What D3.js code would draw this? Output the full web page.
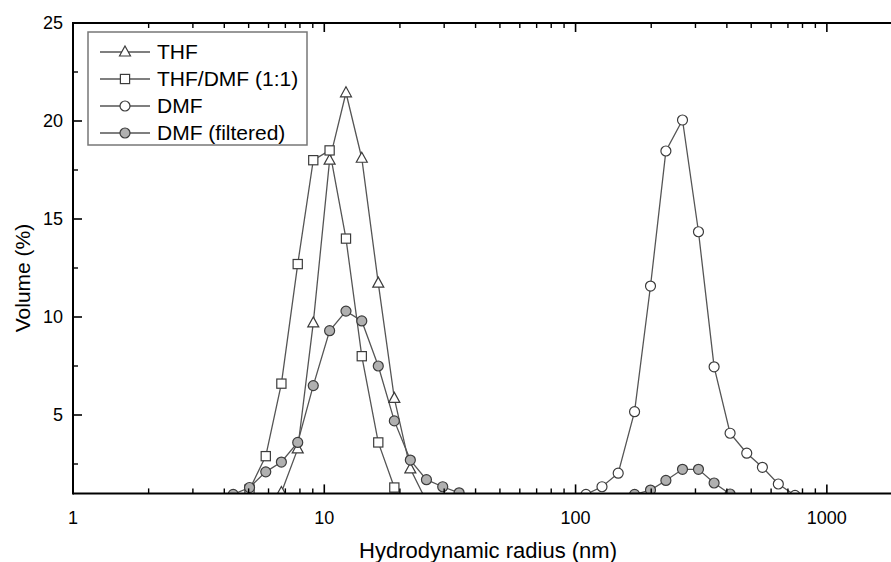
<!DOCTYPE html>
<html>
<head>
<meta charset="utf-8">
<script src="https://cdn.jsdelivr.net/npm/d3@7"></script>
<style>
  body { margin: 0; background: #fff; }
  svg { display: block; font-family: "Liberation Sans", Arial, sans-serif; }
</style>
</head>
<body>
<svg id="chart" width="891" height="562"></svg>
<script>
// hydrodynamic radius bins (nm) and volume (%)
var thfX = [6.75, 7.84, 9.04, 10.5, 12.2, 14.1, 16.4, 19.0, 22.0, 25.5];
var thfY = [1.05, 3.27, 9.7, 18.0, 21.44, 18.1, 11.73, 5.85, 2.25, 0.6];

var mixX = [5.04, 5.85, 6.75, 7.84, 9.04, 10.5, 12.2, 14.1, 16.4, 19.0];
var mixY = [1.2, 2.9, 6.6, 12.7, 18.0, 18.5, 14.0, 8.0, 3.6, 1.3];

var dmfX = [110, 127.4, 147.8, 171.7, 198.7, 228.8, 266.4, 308.4, 355.9, 412, 480, 554, 641, 747];
var dmfY = [0.95, 1.34, 2.03, 5.17, 11.58, 18.47, 20.05, 14.35, 7.46, 4.07, 3.05, 2.33, 1.48, 0.9];

// filtered DMF: two populations, nothing measured in between
var filtX = [4.34, 5.04, 5.85, 6.75, 7.84, 9.04, 10.5, 12.2, 14.1, 16.4, 19.0, 22.0, 25.5, 29.6, 34.4,
             null,
             171.7, 198.7, 228.8, 266.4, 308.4, 355.9, 412];
var filtY = [0.95, 1.3, 2.1, 2.6, 3.6, 6.5, 9.3, 10.3, 9.8, 7.5, 4.7, 2.7, 1.7, 1.34, 1.03,
             null,
             0.95, 1.17, 1.66, 2.23, 2.23, 1.53, 0.97];

var legendLabels = ["THF", "THF/DMF (1:1)", "DMF", "DMF (filtered)"];
var yTickValues = [5, 10, 15, 20, 25];
var xTickValues = [1, 10, 100, 1000];

var plotLeft = 73, plotTop = 23, plotRight = 891, plotBottom = 493.4;

var svg = d3.select("#chart");

var x = d3.scaleLog().domain([1, 1800]).range([plotLeft, plotRight]);
var y = d3.scaleLinear().domain([1, 25]).range([plotBottom, plotTop]);

svg.append("clipPath").attr("id", "plot-clip")
    .append("rect")
    .attr("x", plotLeft).attr("y", plotTop)
    .attr("width", plotRight - plotLeft).attr("height", plotBottom - plotTop);

function zip(xs, ys) {
    return xs.map(function(v, i) { return { x: v, y: ys[i] }; });
}

var series = [
    { name: legendLabels[0], data: zip(thfX, thfY), shape: "triangle", fill: "#fff" },
    { name: legendLabels[1], data: zip(mixX, mixY), shape: "square", fill: "#fff" },
    { name: legendLabels[2], data: zip(dmfX, dmfY), shape: "circle", fill: "#fff" },
    { name: legendLabels[3], data: zip(filtX, filtY), shape: "circle", fill: "#b0b0b0" }
];

var lineColor = "#555", markStroke = "#3c3c3c";

function marker(g, shape, fill) {
    if (shape == "triangle") {
        g.append("path").attr("d", "M0,-6L5.5,4L-5.5,4Z");
    } else if (shape == "square") {
        g.append("rect").attr("x", -4.6).attr("y", -4.6).attr("width", 9.2).attr("height", 9.2);
    } else {
        g.append("circle").attr("r", 5);
    }
    g.selectAll("*")
        .attr("fill", fill)
        .attr("stroke", markStroke)
        .attr("stroke-width", 1.2);
}

var line = d3.line()
    .defined(function(d) { return d.x != null; })
    .x(function(d) { return x(d.x); })
    .y(function(d) { return y(d.y); });

var plot = svg.append("g").attr("clip-path", "url(#plot-clip)");

series.forEach(function(s) {
    plot.append("path")
        .datum(s.data)
        .attr("d", line)
        .attr("fill", "none")
        .attr("stroke", lineColor)
        .attr("stroke-width", 1.3);
});

series.forEach(function(s) {
    plot.selectAll(null)
        .data(s.data.filter(function(d) { return d.x != null; }))
        .enter().append("g")
        .attr("transform", function(d) { return "translate(" + x(d.x) + "," + y(d.y) + ")"; })
        .each(function() { marker(d3.select(this), s.shape, s.fill); });
});

// axes: ticks point inward, minor ticks without labels
var xMinor = [];
for (var dec = 1; dec <= 1000; dec *= 10) {
    for (var k = 2; k <= 9; k++) {
        if (dec * k < 1800) xMinor.push(dec * k);
    }
}
var yMinor = [2.5, 7.5, 12.5, 17.5, 22.5];

var axes = svg.append("g").attr("stroke", "#000");

axes.selectAll(".xmaj-b").data(xTickValues).enter().append("line")
    .attr("x1", function(d) { return x(d); }).attr("x2", function(d) { return x(d); })
    .attr("y1", plotBottom).attr("y2", plotBottom - 9).attr("stroke-width", 1.6);
axes.selectAll(".xmin-b").data(xMinor).enter().append("line")
    .attr("x1", function(d) { return x(d); }).attr("x2", function(d) { return x(d); })
    .attr("y1", plotBottom).attr("y2", plotBottom - 5).attr("stroke-width", 1.4);
axes.selectAll(".xmaj-t").data(xTickValues).enter().append("line")
    .attr("x1", function(d) { return x(d); }).attr("x2", function(d) { return x(d); })
    .attr("y1", plotTop).attr("y2", plotTop + 9).attr("stroke-width", 1.6);
axes.selectAll(".xmin-t").data(xMinor).enter().append("line")
    .attr("x1", function(d) { return x(d); }).attr("x2", function(d) { return x(d); })
    .attr("y1", plotTop).attr("y2", plotTop + 5).attr("stroke-width", 1.4);

axes.selectAll(".ymaj").data(yTickValues).enter().append("line")
    .attr("x1", plotLeft).attr("x2", plotLeft + 9)
    .attr("y1", function(d) { return y(d); }).attr("y2", function(d) { return y(d); })
    .attr("stroke-width", 1.6);
axes.selectAll(".ymin").data(yMinor).enter().append("line")
    .attr("x1", plotLeft).attr("x2", plotLeft + 5)
    .attr("y1", function(d) { return y(d); }).attr("y2", function(d) { return y(d); })
    .attr("stroke-width", 1.4);

axes.append("line").attr("x1", plotLeft).attr("x2", plotRight).attr("y1", plotBottom).attr("y2", plotBottom).attr("stroke-width", 2);
axes.append("line").attr("x1", plotLeft).attr("x2", plotRight).attr("y1", plotTop).attr("y2", plotTop).attr("stroke-width", 2);
axes.append("line").attr("x1", plotLeft).attr("x2", plotLeft).attr("y1", plotTop - 1).attr("y2", plotBottom + 1).attr("stroke-width", 2);

svg.selectAll(".xlab").data(xTickValues).enter().append("text")
    .attr("x", function(d) { return x(d); })
    .attr("y", plotBottom + 31)
    .attr("text-anchor", "middle")
    .attr("font-size", 18)
    .text(function(d) { return d; });

svg.selectAll(".ylab").data(yTickValues).enter().append("text")
    .attr("x", plotLeft - 10)
    .attr("y", function(d) { return y(d) + 6; })
    .attr("text-anchor", "end")
    .attr("font-size", 18)
    .text(function(d) { return d; });

svg.append("text")
    .attr("x", 488).attr("y", 558)
    .attr("text-anchor", "middle")
    .attr("font-size", 22)
    .text("Hydrodynamic radius (nm)");

svg.append("text")
    .attr("transform", "translate(30,278) rotate(-90)")
    .attr("text-anchor", "middle")
    .attr("font-size", 21)
    .text("Volume (%)");

// legend
var legend = svg.append("g");
legend.append("rect")
    .attr("x", 88).attr("y", 32)
    .attr("width", 219).attr("height", 113)
    .attr("fill", "#fff")
    .attr("stroke", "#777")
    .attr("stroke-width", 1.5);

series.forEach(function(s, i) {
    var ly = 52 + i * 27;
    legend.append("line")
        .attr("x1", 100).attr("x2", 150)
        .attr("y1", ly).attr("y2", ly)
        .attr("stroke", lineColor).attr("stroke-width", 1.3);
    marker(legend.append("g").attr("transform", "translate(125," + ly + ")"), s.shape, s.fill);
    legend.append("text")
        .attr("x", 157).attr("y", ly + 7)
        .attr("font-size", 21)
        .text(s.name);
});
</script>
</body>
</html>
